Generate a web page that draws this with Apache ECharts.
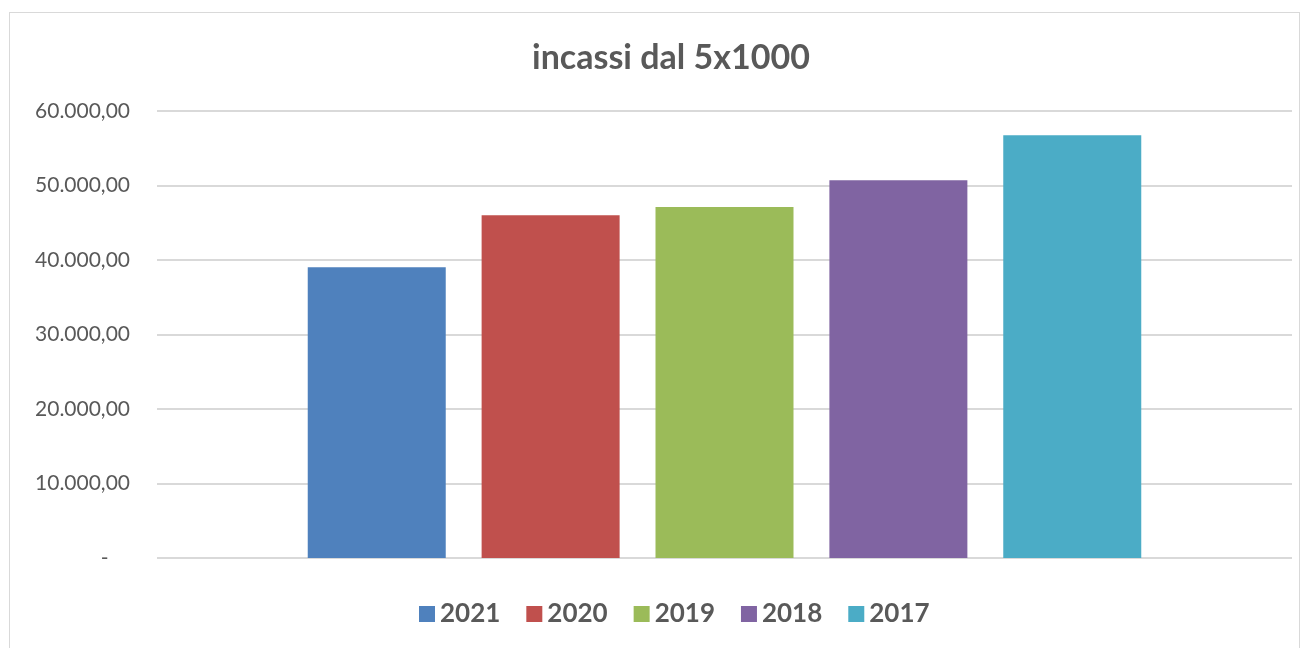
<!DOCTYPE html>
<html>
<head>
<meta charset="utf-8">
<script src="https://cdn.jsdelivr.net/npm/echarts@6/dist/echarts.min.js"></script>
<style>
    html, body { margin: 0; padding: 0; background: #fff; }
    #frame { position: absolute; left: 9px; top: 12px; width: 1291px; height: 645px; border: 1px solid #d9d9d9; box-sizing: border-box; }
    #chart { width: 1309px; height: 648px; position: absolute; left: 0; top: 0; }
</style>
</head>
<body>
<div id="frame"></div>
<div id="chart"></div>
<script>
const years = ['2021', '2020', '2019', '2018', '2017'];
const values = [39020, 46010, 47100, 50710, 56750];
const colors = ['#4f81bd', '#c0504d', '#9bbb59', '#8064a2', '#4bacc6'];
const yTicks = [0, 10000, 20000, 30000, 40000, 50000, 60000];

const chart = echarts.init(document.getElementById('chart'));

function fmt(v) {
    if (v === 0) return '-    ';
    return v.toLocaleString('de-DE', { minimumFractionDigits: 2, maximumFractionDigits: 2 });
}

let series = years.map(function (y, i) {
    return {
        name: y,
        type: 'bar',
        data: [values[i]],
        barWidth: 138,
        barGap: '26%',
        itemStyle: { color: colors[i] }
    };
});

const option = {
    animation: false,
    textStyle: { fontFamily: 'Lato' },
    title: {
        text: 'incassi dal 5x1000',
        left: 527,
        top: 36,
        textStyle: { color: '#595959', fontSize: 34, fontWeight: 'bold', fontFamily: 'Lato' }
    },
    legend: {
        bottom: 16,
        left: 414,
        itemWidth: 16,
        itemHeight: 16,
        itemGap: 26,
        icon: 'rect',
        textStyle: { color: '#595959', fontSize: 26, fontWeight: 'bold', fontFamily: 'Lato' },
        data: years
    },
    grid: { left: 157, right: 17, top: 111, bottom: 90 },
    xAxis: {
        type: 'category',
        data: [''],
        axisLine: { show: false },
        axisTick: { show: false },
        axisLabel: { show: false }
    },
    yAxis: {
        type: 'value',
        min: yTicks[0],
        max: yTicks[yTicks.length - 1],
        interval: 10000,
        axisLine: { show: false },
        axisTick: { show: false },
        axisLabel: {
            color: '#595959',
            fontSize: 21,
            margin: 27,
            formatter: fmt
        },
        splitLine: { lineStyle: { color: '#d9d9d9', width: 2 } }
    },
    series: series
};
chart.setOption(option);
</script>
</body>
</html>
